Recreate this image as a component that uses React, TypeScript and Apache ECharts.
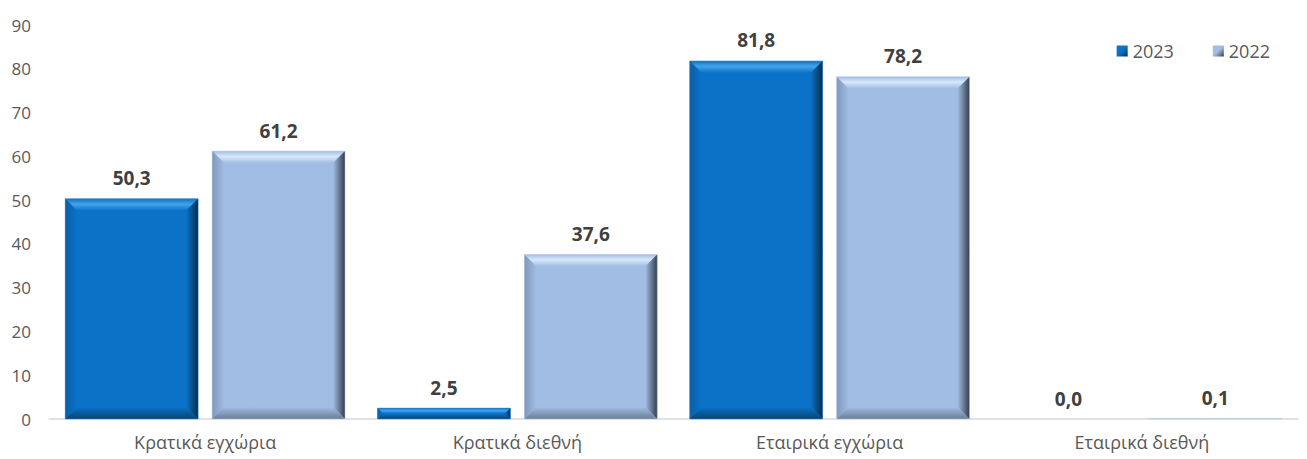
import React, { useEffect, useRef } from "react";
import * as echarts from "echarts";

const categories = ["Κρατικά εγχώρια", "Κρατικά διεθνή", "Εταιρικά εγχώρια", "Εταιρικά διεθνή"];
const seriesNames = ["2023", "2022"];
const series2023 = [50.3, 2.5, 81.8, 0.0];
const series2022 = [61.2, 37.6, 78.2, 0.1];
const yTicks = { min: 0, max: 90, interval: 10 };

const FONT = "'Open Sans', sans-serif";

type Pal = { face: string; topHi: string; left: string; right: string; bottom: string; border: string };
const palettes: Pal[] = [
  { face: "#0A73C7", topHi: "#45A2EA", left: "#0A5EA6", right: "#062C4C", bottom: "#074476", border: "#3C8ED0" },
  { face: "#A2BDE3", topHi: "#D6E8FB", left: "#7F97BA", right: "#323D4F", bottom: "#6B7C96", border: "#C0D3EE" },
];

const lg = (x0: number, y0: number, x1: number, y1: number, stops: [number, string][]) =>
  new echarts.graphic.LinearGradient(x0, y0, x1, y1, stops.map(([offset, color]) => ({ offset, color })));

function makeRender(sIdx: number) {
  const pal = palettes[sIdx];
  return (params: any, api: any) => {
    const idx = api.value(0);
    const val = api.value(1);
    const [cx, yBase] = api.coord([idx, 0]);
    const [, yTop] = api.coord([idx, val]);
    const bw = api.size([1, 0])[0];
    const barW = bw * 0.4256;
    const gap = bw * 0.0448;
    const x0 = sIdx === 0 ? cx - gap / 2 - barW : cx + gap / 2;
    const x1 = x0 + barW;
    const y0 = yBase;
    const y1 = yTop;
    const h = y0 - y1;
    const children: any[] = [];
    if (h > 0.2) {
      const b = Math.min(12, h / 2, barW / 2);
      children.push({ type: "rect", shape: { x: x0, y: y1, width: barW, height: h }, style: { fill: pal.face } });
      children.push({
        type: "polygon",
        shape: { points: [[x0, y1], [x1, y1], [x1 - b, y1 + b], [x0 + b, y1 + b]] },
        style: { fill: lg(0, 0, 0, 1, [[0, pal.face], [0.45, pal.topHi], [1, pal.face]]) },
      });
      children.push({
        type: "polygon",
        shape: { points: [[x0, y1], [x0 + b, y1 + b], [x0 + b, y0 - b], [x0, y0]] },
        style: { fill: lg(0, 0, 1, 0, [[0, pal.left], [1, pal.face]]) },
      });
      children.push({
        type: "polygon",
        shape: { points: [[x1, y1], [x1, y0], [x1 - b, y0 - b], [x1 - b, y1 + b]] },
        style: { fill: lg(0, 0, 1, 0, [[0, pal.face], [1, pal.right]]) },
      });
      children.push({
        type: "polygon",
        shape: { points: [[x0, y0], [x0 + b, y0 - b], [x1 - b, y0 - b], [x1, y0]] },
        style: { fill: lg(0, 0, 0, 1, [[0, pal.face], [1, pal.bottom]]) },
      });
      children.push({
        type: "rect",
        shape: { x: x0, y: y1, width: barW, height: h },
        style: { fill: "none", stroke: pal.border, lineWidth: 0.8, opacity: 0.6 },
      });
    }
    children.push({
      type: "text",
      x: x0 + barW / 2,
      y: y1 - 11,
      style: {
        text: Number(val).toFixed(1).replace(".", ","),
        textAlign: "center",
        textVerticalAlign: "bottom",
        fontFamily: FONT,
        fontSize: 19,
        fontWeight: "bold",
        fill: "#404040",
      },
    });
    return { type: "group", children };
  };
}

export default function App() {
  const ref = useRef<HTMLDivElement>(null);
  useEffect(() => {
    document.body.style.margin = "0";
    const chart = echarts.init(ref.current!, null, { renderer: "svg" });
    const dataFor = (arr: number[]) => arr.map((v, i) => [i, v]);
    chart.setOption({
      animation: false,
      grid: { left: 49, right: 9, top: 25, bottom: 40, containLabel: false },
      legend: {
        right: 32,
        top: 37,
        itemGap: 39,
        itemWidth: 11,
        itemHeight: 11,
        icon: "rect",
        textStyle: { fontFamily: FONT, fontSize: 18, color: "#595959" },
        data: seriesNames,
      },
      xAxis: {
        type: "category",
        data: categories,
        axisLine: { lineStyle: { color: "#D9D9D9", width: 1.5 } },
        axisTick: { show: false },
        axisLabel: { fontFamily: FONT, fontSize: 18, color: "#595959", margin: 14 },
      },
      yAxis: {
        type: "value",
        min: yTicks.min,
        max: yTicks.max,
        interval: yTicks.interval,
        axisLine: { show: false },
        axisTick: { show: false },
        splitLine: { show: false },
        axisLabel: { fontFamily: FONT, fontSize: 17, color: "#595959", margin: 18 },
      },
      series: [series2023, series2022].map((arr, s) => ({
        name: seriesNames[s],
        type: "custom",
        renderItem: makeRender(s),
        data: dataFor(arr),
        encode: { x: 0, y: 1 },
        clip: false,
        itemStyle: {
          color: lg(0, 0, 1, 1, [[0, palettes[s].face], [0.5, palettes[s].face], [1, palettes[s].right]]),
        },
      })),
    });
    return () => chart.dispose();
  }, []);
  return <div ref={ref} style={{ position: "absolute", left: 0, top: 0, width: 1307, height: 459 }} />;
}
